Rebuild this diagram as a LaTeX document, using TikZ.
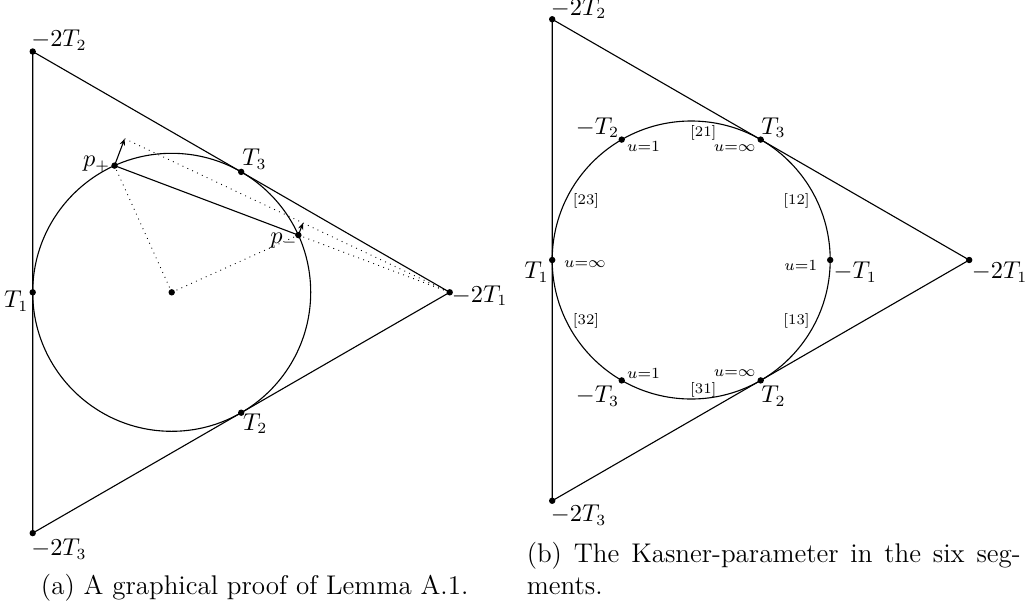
\documentclass[tikz,border=0pt]{standalone}
\usetikzlibrary{arrows.meta}
\begin{document}
\begin{tikzpicture}[x=0.45pt,y=-0.45pt,
  edge/.style={line width=0.5pt},
  aux/.style={dotted,line width=0.4pt},
  vec/.style={line width=0.5pt,-{Stealth[length=3pt,width=2.4pt]}},
  lab/.style={inner sep=0pt,font=\fontsize{10.5}{12}\selectfont},
  tag/.style={inner sep=0pt,font=\fontsize{6.6}{8}\selectfont},
  capt/.style={inner sep=0pt,font=\fontsize{12.16}{14.4}\selectfont}]
\useasboundingbox (0,0) rectangle (1026,607);
% ---------- panel (a) ----------
\coordinate (LC) at (171.7,292.3);
\coordinate (LT1) at (32.7,292.3);
\coordinate (LmT1) at (449.7,292.3);
\coordinate (LmT2) at (32.7,51.5);
\coordinate (LmT3) at (32.7,533.1);
\coordinate (LT3) at (241.2,171.9);
\coordinate (LT2) at (241.2,412.7);
\coordinate (Lpp) at (114.50,165.62);
\coordinate (Lpm) at (298.38,235.10);
\coordinate (Ltp) at (124.68,138.68);
\coordinate (Ltm) at (302.98,222.94);
\draw[edge] (LmT2) -- (LmT3) -- (LmT1) -- cycle;
\draw[edge] (LC) circle[radius=139];
\draw[edge] (Lpp) -- (Lpm);
\draw[aux] (LC) -- (Lpp);
\draw[aux] (LC) -- (Lpm);
\draw[aux] (Ltp) -- (LmT1);
\draw[aux] (Lpm) -- (LmT1);
\draw[vec] (Lpp) -- (Ltp);
\draw[vec] (Lpm) -- (Ltm);
\foreach \p in {LC,LT1,LmT1,LmT2,LmT3,LT2,LT3,Lpp,Lpm}
  \fill (\p) circle[radius=3.2];
\node[lab,anchor=base west] (lLmT2) at (30.9,46.7) {$-2T_2$};
\node[lab,anchor=base west] (lLT3) at (242,165.7) {$T_3$};
\node[lab,anchor=base east] (lLpp) at (110.5,166.7) {$p_+$};
\node[lab,anchor=base east] (lLpm) at (298,243) {$p_-$};
\node[lab,anchor=base east] (lLT1) at (28.8,307.5) {$T_1$};
\node[lab,anchor=base west] (lLmT1) at (451.5,302) {$-2T_1$};
\node[lab,anchor=base west] (lLT2) at (242.6,430) {$T_2$};
\node[lab,anchor=base west] (lLmT3) at (30.9,555.5) {$-2T_3$};
\node[capt,anchor=base] (capa) at (254.7,594.3) {(a) A graphical proof of Lemma A.1.};
% ---------- panel (b) ----------
\coordinate (RC) at (691.2,260);
\coordinate (RT1) at (552.2,260);
\coordinate (RnT1) at (830.2,260);
\coordinate (RmT1) at (969.2,260);
\coordinate (RmT2) at (552.2,19.24);
\coordinate (RmT3) at (552.2,500.76);
\coordinate (RT3) at (760.7,139.6);
\coordinate (RT2) at (760.7,380.4);
\coordinate (RnT2) at (621.7,139.6);
\coordinate (RnT3) at (621.7,380.4);
\draw[edge] (RmT2) -- (RmT3) -- (RmT1) -- cycle;
\draw[edge] (RC) circle[radius=139];
\foreach \p in {RT1,RnT1,RmT1,RmT2,RmT3,RT2,RT3,RnT2,RnT3}
  \fill (\p) circle[radius=3.2];
\node[lab,anchor=base west] (lRmT2) at (550.5,15) {$-2T_2$};
\node[lab,anchor=base east] (lRnT2) at (619.5,134) {$-T_2$};
\node[lab,anchor=base west] (lRT3) at (761,134) {$T_3$};
\node[lab,anchor=base east] (lRT1) at (549,278.5) {$T_1$};
\node[lab,anchor=base west] (lRnT1) at (833.2,278.5) {$-T_1$};
\node[lab,anchor=base west] (lRmT1) at (971.5,278.5) {$-2T_1$};
\node[lab,anchor=base east] (lRnT3) at (619.5,402.5) {$-T_3$};
\node[lab,anchor=base west] (lRT2) at (761,402.5) {$T_2$};
\node[lab,anchor=base west] (lRmT3) at (550.5,521.5) {$-2T_3$};
\node[tag,anchor=base] (s21) at (703.3,136) {[21]};
\node[tag,anchor=base] (s23) at (586,204) {[23]};
\node[tag,anchor=base] (s12) at (796.5,204) {[12]};
\node[tag,anchor=base] (s32) at (586,324) {[32]};
\node[tag,anchor=base] (s13) at (796.5,324) {[13]};
\node[tag,anchor=base] (s31) at (703.3,393) {[31]};
\node[tag,anchor=base] (u1a) at (643.5,151) {$u{=}1$};
\node[tag,anchor=base] (uia) at (734.7,151) {$u{=}\infty$};
\node[tag,anchor=base] (uib) at (585,267.7) {$u{=}\infty$};
\node[tag,anchor=base] (u1b) at (800.8,270) {$u{=}1$};
\node[tag,anchor=base] (u1c) at (643.5,378) {$u{=}1$};
\node[tag,anchor=base] (uic) at (734.7,376.5) {$u{=}\infty$};
\node[capt,anchor=base west] (capb) at (526.3,562.3)
  {\parbox[t]{222.3pt}{\makebox[222.3pt][s]{(b) The Kasner-parameter in the six seg-}\\ments.}};
\end{tikzpicture}
\end{document}
